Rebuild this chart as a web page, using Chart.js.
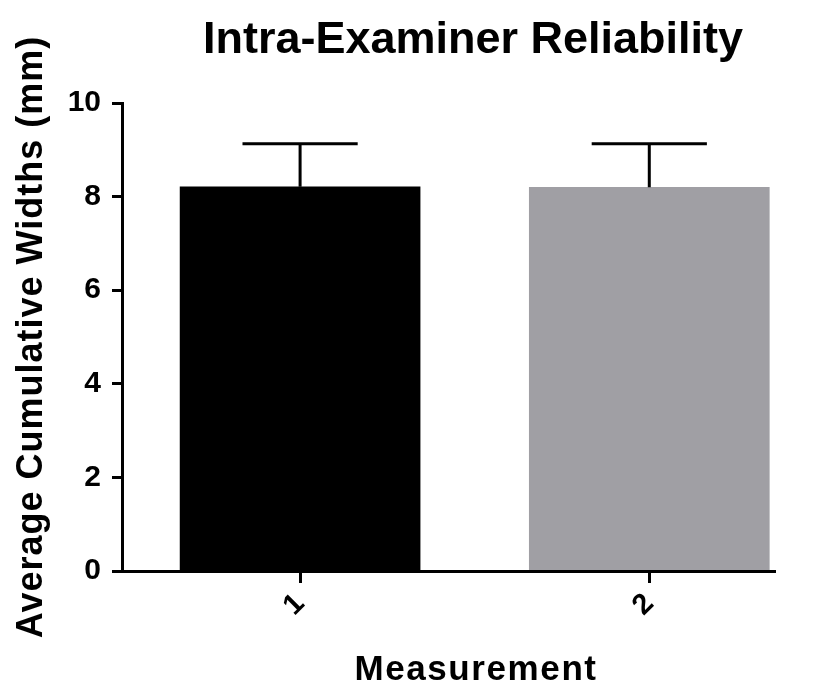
<!DOCTYPE html>
<html lang="en">
<head>
    <meta charset="UTF-8">
    <title>Intra-Examiner Reliability</title>
    <script src="https://cdn.jsdelivr.net/npm/chart.js"></script>
    <style>
        body {
            margin: 0;
            background: #ffffff;
        }
    </style>
</head>
<body>
    <canvas id="reliabilityChart" width="815" height="688"></canvas>

    <script>
        // Chart data
        const chartTitle = "Intra-Examiner Reliability";
        const xTitle = "Measurement";
        const yTitle = "Average Cumulative Widths (mm)";
        const categories = ["1", "2"];
        const means = [8.21, 8.20];
        const sdUpper = [0.92, 0.93];
        const yMin = 0;
        const yMax = 10;
        const yStep = 2;

        const FONT = '"Liberation Sans", Arial, sans-serif';

        // error bars + titles
        const extras = {
            id: "extras",
            afterDatasetsDraw(chart) {
                const ctx = chart.ctx;
                const y = chart.scales.y;
                const meta = chart.getDatasetMeta(0);
                ctx.save();
                ctx.strokeStyle = "#000";
                ctx.lineWidth = 3;
                meta.data.forEach((bar, i) => {
                    const top = y.getPixelForValue(means[i] + sdUpper[i]);
                    const half = bar.width * 0.24;
                    ctx.beginPath();
                    ctx.moveTo(bar.x, bar.y);
                    ctx.lineTo(bar.x, top);
                    ctx.moveTo(bar.x - half, top);
                    ctx.lineTo(bar.x + half, top);
                    ctx.stroke();
                });
                ctx.restore();
            },
            afterDraw(chart) {
                const ctx = chart.ctx;
                const area = chart.chartArea;
                ctx.save();
                ctx.fillStyle = "#000";
                ctx.textAlign = "center";
                ctx.textBaseline = "alphabetic";
                ctx.font = "bold 45px " + FONT;
                ctx.fillText(chartTitle, 473, 53);

                ctx.letterSpacing = "1.6px";
                ctx.font = "bold 35px " + FONT;
                ctx.fillText(xTitle, 476, 680);

                ctx.letterSpacing = "1px";
                ctx.font = "bold 36px " + FONT;
                ctx.translate(42, (area.top + area.bottom) / 2);
                ctx.rotate(-Math.PI / 2);
                ctx.fillText(yTitle, 0, 0);
                ctx.restore();
            }
        };

        const ctx = document.getElementById("reliabilityChart").getContext("2d");
        new Chart(ctx, {
            type: "bar",
            data: {
                datasets: [{
                    data: categories.map((c, i) => ({ x: i + 1, y: means[i] })),
                    backgroundColor: ["#000000", "#a09fa4"],
                    borderWidth: 0,
                    barThickness: 240
                }]
            },
            options: {
                responsive: false,
                animation: false,
                layout: {
                    padding: { top: 103, right: 40, left: 0, bottom: 0 }
                },
                plugins: {
                    legend: { display: false },
                    tooltip: { enabled: false }
                },
                scales: {
                    x: {
                        type: "linear",
                        min: 0.49,
                        max: 2.36,
                        offset: false,
                        afterBuildTicks: (s) => {
                            s.ticks = categories.map((c, i) => ({ value: i + 1 }));
                        },
                        afterFit: (s) => { s.height = 117; },
                        grid: {
                            drawOnChartArea: false,
                            offset: false,
                            tickLength: 12,
                            tickWidth: 3,
                            tickColor: "#000"
                        },
                        border: { color: "#000", width: 3, z: 1 },
                        ticks: {
                            color: "#000",
                            font: { family: FONT, size: 29, weight: "bold" },
                            minRotation: 45,
                            maxRotation: 45,
                            padding: 4,
                            autoSkip: false,
                            callback: (v) => categories[v - 1]
                        }
                    },
                    y: {
                        min: yMin,
                        max: yMax,
                        afterFit: (s) => { s.width = 122; },
                        grid: {
                            drawOnChartArea: false,
                            tickLength: 10,
                            tickWidth: 3,
                            tickColor: "#000"
                        },
                        border: { color: "#000", width: 3, z: 1 },
                        ticks: {
                            stepSize: yStep,
                            color: "#000",
                            padding: 11,
                            font: { family: FONT, size: 30, weight: "bold" }
                        }
                    }
                }
            },
            plugins: [extras]
        });
    </script>
</body>
</html>
